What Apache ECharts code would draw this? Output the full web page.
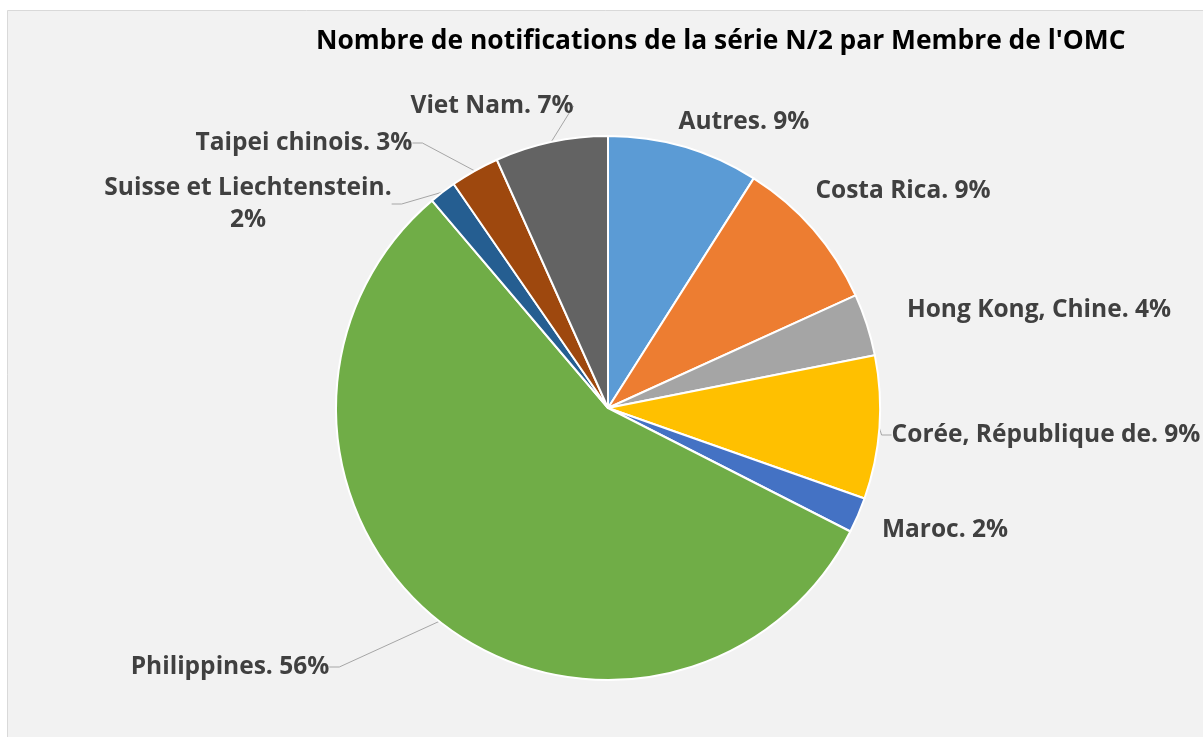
<!DOCTYPE html>
<html>
<head>
<meta charset="utf-8">
<script src="https://cdn.jsdelivr.net/npm/echarts@6/dist/echarts.min.js"></script>
<style>
  html, body { margin: 0; padding: 0; background: #fff; }
  #chart { width: 1203px; height: 737px; }
</style>
</head>
<body>
<div id="chart"></div>
<script>
// membres, dans l'ordre des secteurs (sens horaire depuis midi)
const members = ['Autres', 'Costa Rica', 'Hong Kong, Chine', 'Corée, République de', 'Maroc',
  'Philippines', 'Suisse et Liechtenstein', 'Taipei chinois', 'Viet Nam']
// part des notifications (%)
const shares = [9.0, 9.2, 3.7, 8.5, 2.1, 56.3, 1.6, 2.9, 6.7]
const colors = ['#5B9BD5', '#ED7D31', '#A5A5A5', '#FFC000', '#4472C4',
  '#70AD47', '#255E91', '#9E480E', '#636363']

// centre des etiquettes (comme dans Excel)
const labelPos = [[744, 122], [903, 191], [1039, 310], [1046, 435], [945, 530],
  [230, 667], [248, 204], [304, 143], [492, 106]]
// pas de trait de rappel quand l'etiquette touche presque le secteur
const noLine = ['Autres', 'Costa Rica', 'Hong Kong, Chine', 'Maroc']

const total = shares.reduce((a, b) => a + b, 0)
const font = 'Open Sans'

const chart = echarts.init(document.getElementById('chart'))
chart.setOption({
  animation: false,
  graphic: [{
    type: 'rect', z: -10, silent: true,
    shape: { x: 7.5, y: 10.5, width: 1200, height: 730 },
    style: { fill: '#F2F2F2', stroke: '#D9D9D9', lineWidth: 1 }
  }],
  title: {
    text: "Nombre de notifications de la série N/2 par Membre de l'OMC",
    left: 316, top: 26, padding: 0,
    textStyle: { fontFamily: font, fontWeight: 'bold', fontSize: 26.4, lineHeight: 30, color: '#000' }
  },
  series: [{
    type: 'pie',
    center: [608, 408],
    radius: 272,
    startAngle: 90,
    clockwise: true,
    avoidLabelOverlap: false,
    itemStyle: { borderColor: '#fff', borderWidth: 2 },
    label: {
      show: true,
      position: 'outside',
      fontFamily: font, fontWeight: 'bold', fontSize: 24.5, color: '#404040',
      lineHeight: 32,
      formatter: p => {
        const pct = Math.round(p.value / total * 100) + '%'
        return p.name.length > 20 ? p.name + '.\n' + pct : p.name + '. ' + pct
      }
    },
    labelLine: { show: true, length: 10, length2: 10, lineStyle: { color: '#A6A6A6', width: 1 } },
    labelLayout: p => ({
      x: labelPos[p.dataIndex][0], y: labelPos[p.dataIndex][1],
      align: 'center', verticalAlign: 'middle'
    }),
    data: members.map((m, i) => ({
      name: m, value: shares[i],
      itemStyle: { color: colors[i] },
      labelLine: { show: !noLine.includes(m) }
    }))
  }]
})
</script>
</body>
</html>
